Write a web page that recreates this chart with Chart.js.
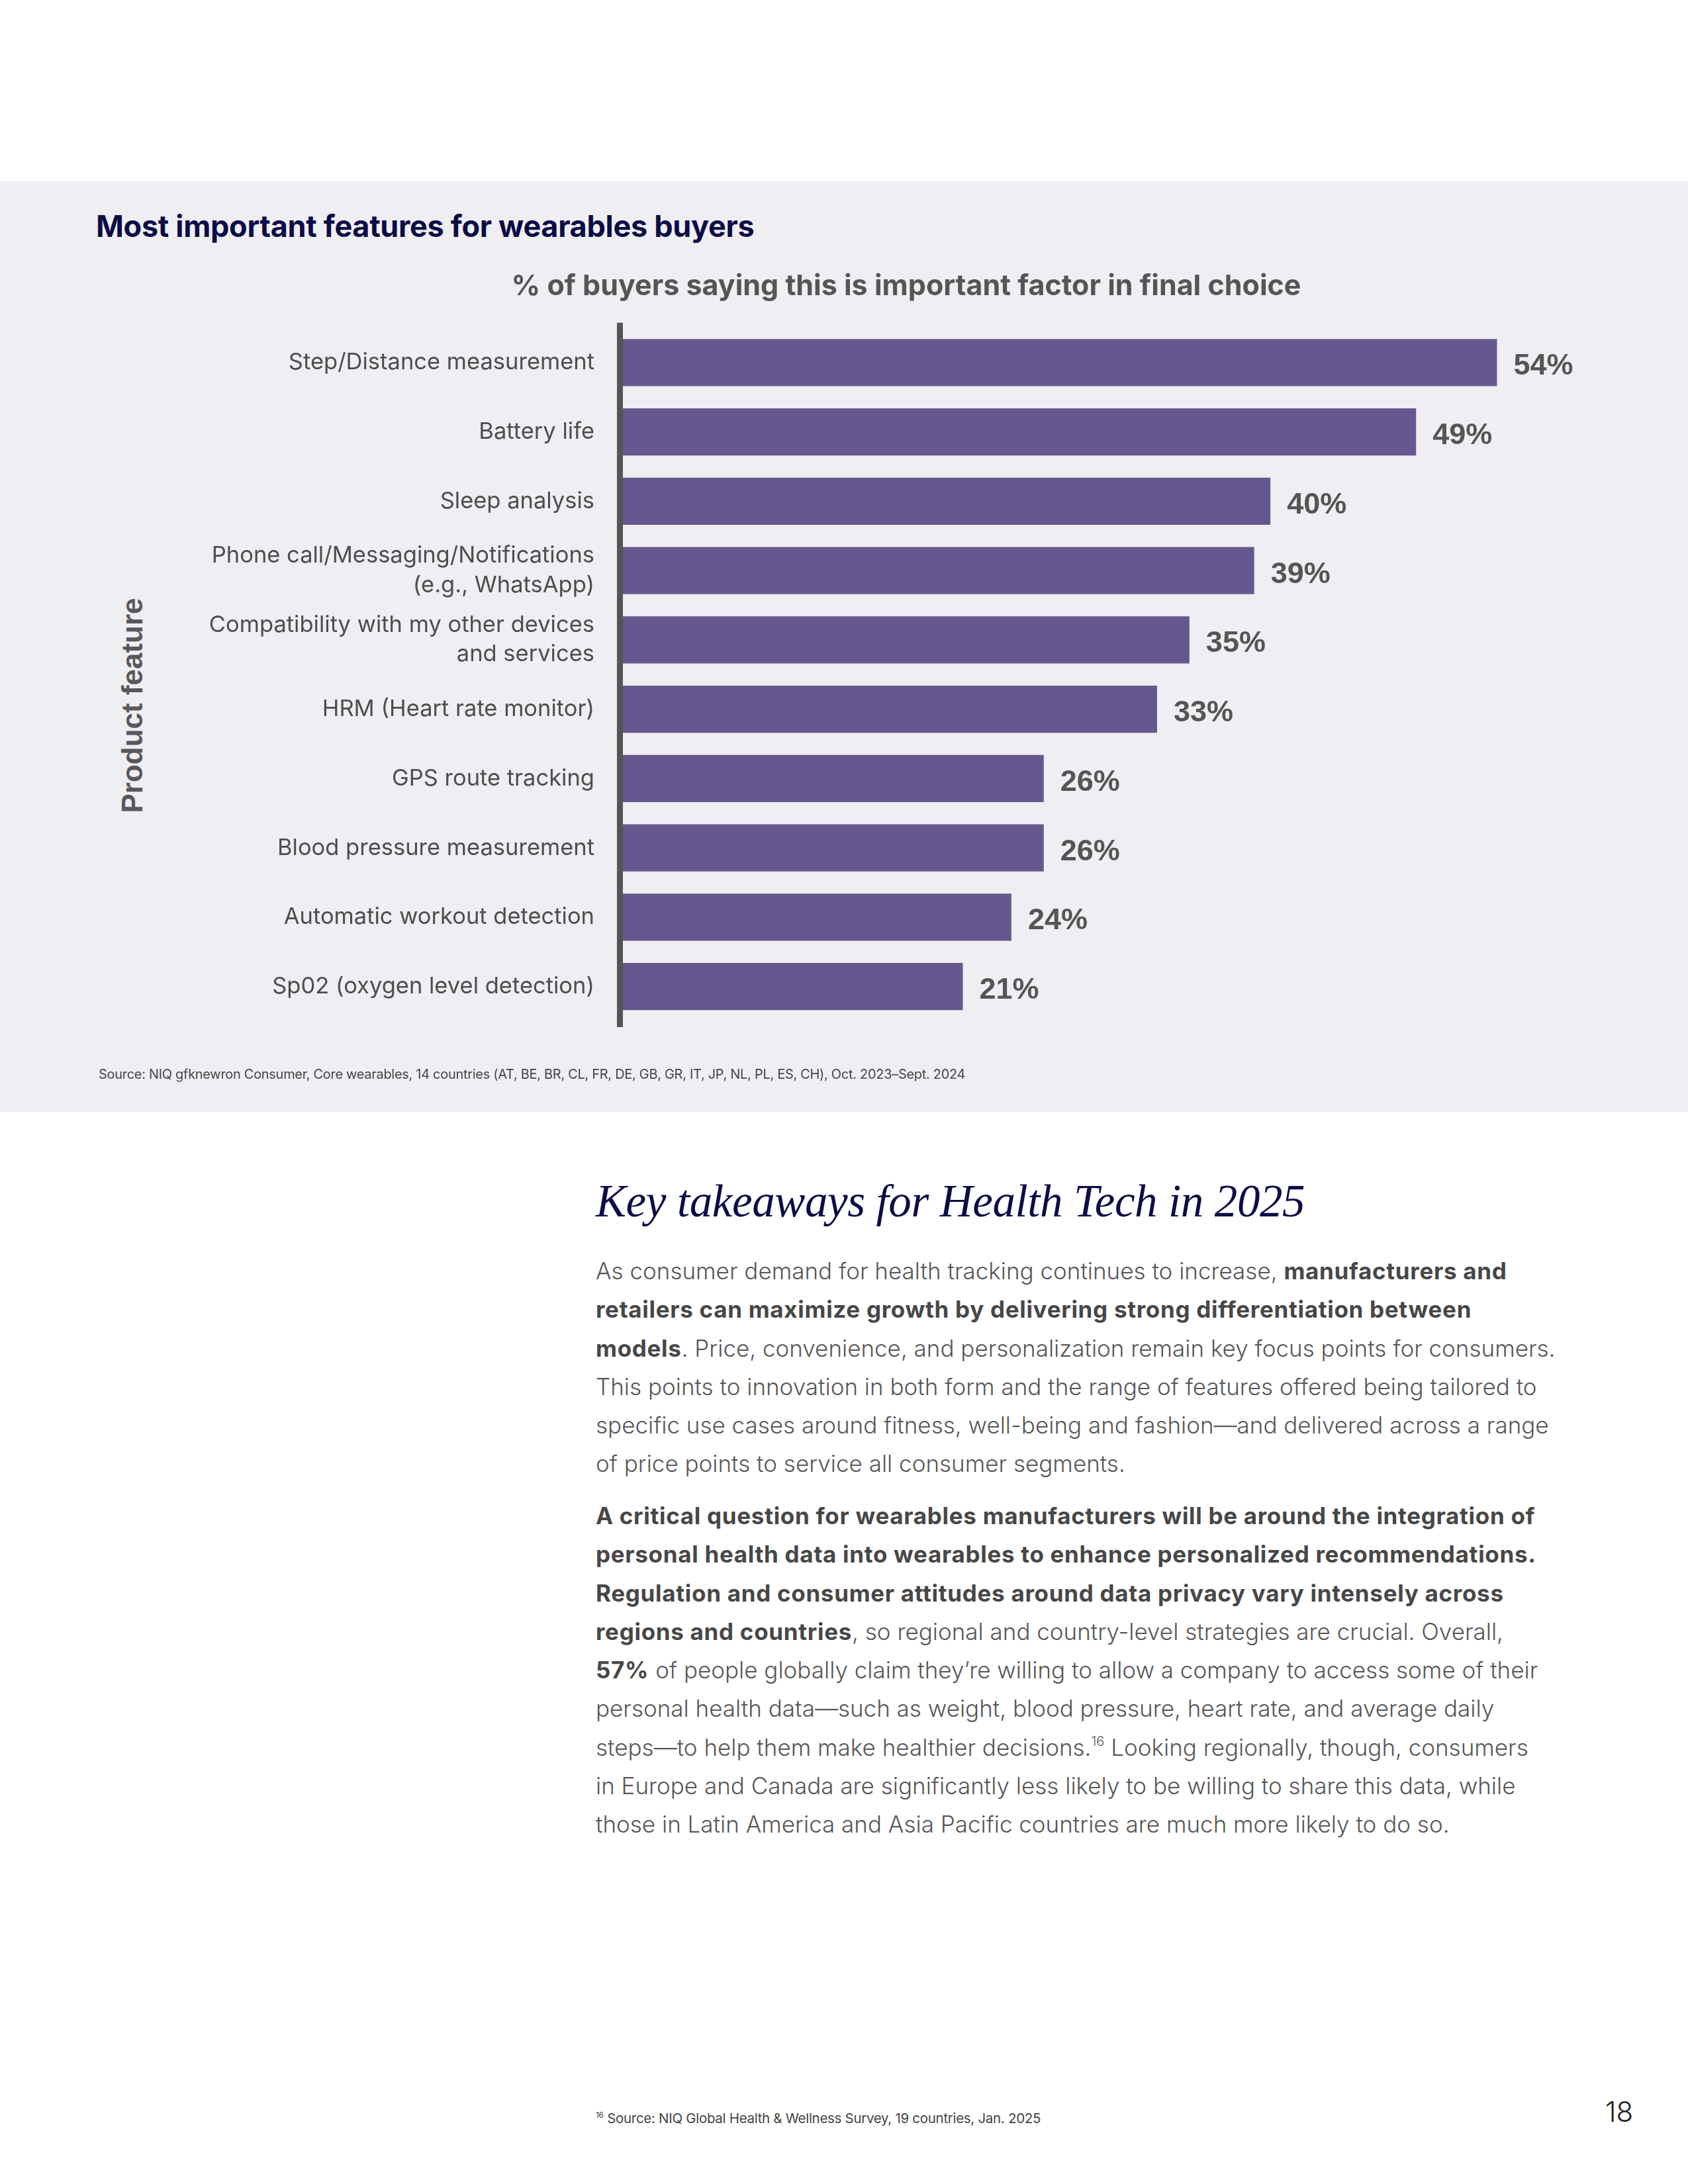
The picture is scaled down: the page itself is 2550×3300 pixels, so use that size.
<!DOCTYPE html>
<html>
<head>
<meta charset="utf-8">
<script src="https://cdn.jsdelivr.net/npm/chart.js@4.4.1/dist/chart.umd.min.js"></script>
<style>
  html, body { margin: 0; padding: 0; background: #ffffff; }
  body { width: 2550px; height: 3300px; position: relative; overflow: hidden; font-family: 'Inter', sans-serif; }
  .panel { position: absolute; left: 0; top: 274px; width: 2550px; height: 1406px; background: #efeef3; }
  .abs { position: absolute; white-space: nowrap; line-height: 1; }
  #chartTitle { left: 145px; top: 319px; font-size: 45px; font-weight: 700; color: #0c0c46; letter-spacing: -0.3px; }
  #yTitle { left: 200px; top: 1066px; font-family: 'Liberation Sans', sans-serif; font-size: 44px; font-weight: 700; color: #58585a;
            transform: translate(-50%, -50%) rotate(-90deg); }
  #source { left: 149px; top: 1613px; font-size: 20px; color: #444; letter-spacing: -0.3px; }
  #chartWrap { position: absolute; left: 0; top: 390px; width: 2550px; height: 1230px; }
  #takeTitle { left: 900px; top: 1781px; font-family: 'Liberation Serif', serif; font-style: italic; font-size: 69px; color: #0c0c46; letter-spacing: -0.4px; }
  .para { position: absolute; left: 900px; width: 1600px; margin: 0; font-size: 35px; font-weight: 300; color: #575757; line-height: 58.3px; white-space: nowrap; letter-spacing: 0px; }
  .para b { font-weight: 700; color: #474747; letter-spacing: 0.7px; }
  .para sup { font-size: 20px; line-height: 0; vertical-align: 15px; }
  #p1 { top: 1891px; }
  #p2 { top: 2261px; }
  #foot { left: 900px; top: 3190px; font-size: 20.5px; color: #444; letter-spacing: -0.3px; }
  #foot sup { font-size: 12px; vertical-align: 8px; }
  #pageNo { left: 2425px; top: 3170px; font-size: 42px; font-weight: 300; color: #222; }
</style>
</head>
<body>
<div class="panel"></div>
<div class="abs" id="chartTitle">Most important features for wearables buyers</div>
<div class="abs" id="yTitle">Product feature</div>
<div id="chartWrap"><canvas id="featureChart" width="2550" height="1230"></canvas></div>
<div class="abs" id="source">Source: NIQ gfknewron Consumer, Core wearables, 14 countries (AT, BE, BR, CL, FR, DE, GB, GR, IT, JP, NL, PL, ES, CH), Oct. 2023–Sept. 2024</div>

<div class="abs" id="takeTitle">Key takeaways for Health Tech in 2025</div>
<p class="para" id="p1">As consumer demand for health tracking continues to increase, <b>manufacturers and</b><br><b>retailers can maximize growth by delivering strong differentiation between</b><br><b>models</b>. Price, convenience, and personalization remain key focus points for consumers.<br>This points to innovation in both form and the range of features offered being tailored to<br>specific use cases around fitness, well-being and fashion—and delivered across a range<br>of price points to service all consumer segments.</p>
<p class="para" id="p2"><b>A critical question for wearables manufacturers will be around the integration of</b><br><b>personal health data into wearables to enhance personalized recommendations.</b><br><b>Regulation and consumer attitudes around data privacy vary intensely across</b><br><b>regions and countries</b>, so regional and country-level strategies are crucial. Overall,<br><b>57%</b> of people globally claim they’re willing to allow a company to access some of their<br>personal health data—such as weight, blood pressure, heart rate, and average daily<br>steps—to help them make healthier decisions.<sup>16</sup> Looking regionally, though, consumers<br>in Europe and Canada are significantly less likely to be willing to share this data, while<br>those in Latin America and Asia Pacific countries are much more likely to do so.</p>
<div class="abs" id="foot"><sup>16</sup> Source: NIQ Global Health &amp; Wellness Survey, 19 countries, Jan. 2025</div>
<div class="abs" id="pageNo">18</div>

<script>
// Chart data
const features = [
    'Step/Distance measurement',
    'Battery life',
    'Sleep analysis',
    ['Phone call/Messaging/Notifications', '(e.g., WhatsApp)'],
    ['Compatibility with my other devices', 'and services'],
    'HRM (Heart rate monitor)',
    'GPS route tracking',
    'Blood pressure measurement',
    'Automatic workout detection',
    'Sp02 (oxygen level detection)'
];
const shares = [54, 49, 40, 39, 35, 33, 26, 26, 24, 21];
const valueMin = 0;
const valueMax = 64;

// Thick vertical axis line drawn over the bar bases
const axisLine = {
    id: 'axisLine',
    afterDatasetsDraw(chart) {
        const {ctx, chartArea} = chart;
        ctx.save();
        ctx.fillStyle = '#555555';
        ctx.fillRect(chartArea.left - 9, chartArea.top - 8, 9, chartArea.bottom - chartArea.top + 17);
        ctx.restore();
    }
};

// Percent labels at the end of each bar
const valueLabels = {
    id: 'valueLabels',
    afterDatasetsDraw(chart) {
        const {ctx} = chart;
        const meta = chart.getDatasetMeta(0);
        ctx.save();
        ctx.font = 'bold 45px "Liberation Sans", Arial, sans-serif';
        ctx.fillStyle = '#555555';
        ctx.textAlign = 'left';
        ctx.textBaseline = 'middle';
        meta.data.forEach((bar, i) => {
            ctx.fillText(shares[i] + '%', bar.x + 25, bar.y + 6);
        });
        ctx.restore();
    }
};

document.addEventListener('DOMContentLoaded', function() {
    const ctx = document.getElementById('featureChart').getContext('2d');
    new Chart(ctx, {
        type: 'bar',
        data: {
            labels: features,
            datasets: [{
                data: shares,
                backgroundColor: '#66588f',
                barPercentage: 0.68,
                categoryPercentage: 1
            }]
        },
        options: {
            indexAxis: 'y',
            responsive: false,
            animation: false,
            devicePixelRatio: 1,
            layout: {
                padding: { left: 232, right: 44, top: 0, bottom: 77 }
            },
            plugins: {
                legend: { display: false },
                tooltip: { enabled: false },
                title: {
                    display: true,
                    text: '% of buyers saying this is important factor in final choice',
                    color: '#555555',
                    font: { family: 'Inter', size: 43, weight: '700', lineHeight: 1.2 },
                    padding: { top: 17, bottom: 37 }
                }
            },
            scales: {
                x: { display: false, min: valueMin, max: valueMax },
                y: {
                    grid: { display: false, drawTicks: false },
                    border: { display: false },
                    ticks: {
                        color: '#4d4d4d',
                        padding: 43,
                        autoSkip: false,
                        font: { family: 'Inter', size: 34.5, weight: '400', lineHeight: 1.28 }
                    },
                    afterFit: function(scale) {
                        scale.width = 709;
                    }
                }
            }
        },
        plugins: [axisLine, valueLabels]
    });
});
</script>
</body>
</html>
